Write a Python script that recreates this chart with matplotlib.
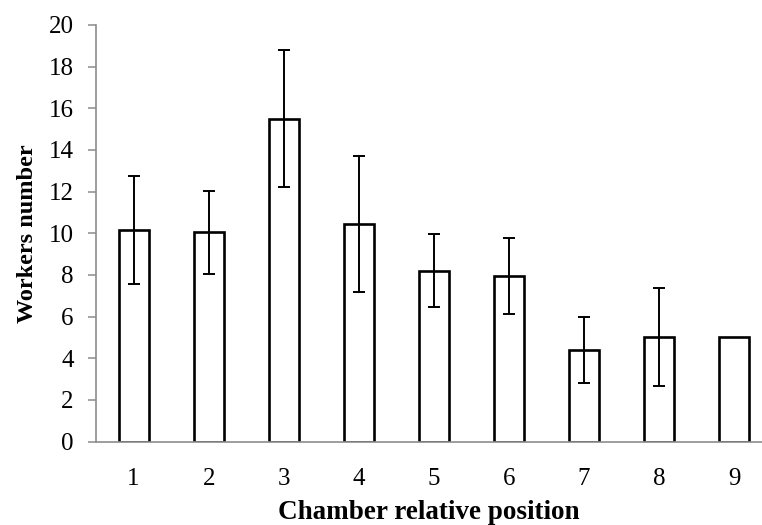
import numpy as np
import matplotlib
matplotlib.use('Agg')
import matplotlib.pyplot as plt

positions = [1, 2, 3, 4, 5, 6, 7, 8, 9]
workers = [10.15, 10.05, 15.5, 10.45, 8.2, 7.95, 4.4, 5.0, 5.0]
errors = [2.6, 2.0, 3.3, 3.25, 1.75, 1.8, 1.6, 2.35, 0.0]
yticks = [0, 2, 4, 6, 8, 10, 12, 14, 16, 18, 20]

plt.rcParams['font.family'] = ['Liberation Serif', 'DejaVu Serif']

fig = plt.figure(figsize=(7.62, 5.25), dpi=100)
ax = fig.add_axes([0.126, 0.1587, 0.874, 0.794])

x = np.array(positions)
ax.bar(x, workers, width=0.4, color='white', edgecolor='black', linewidth=1.9, zorder=2)
# only draw error bars where there is an error
mask = np.array(errors) > 0
ax.errorbar(x[mask], np.array(workers)[mask], yerr=np.array(errors)[mask],
            fmt='none', ecolor='black', elinewidth=1.4, capsize=4.5, capthick=1.4, zorder=3)

ax.set_xlim(0.5, 9.37)
ax.set_ylim(0, 20)
ax.set_yticks(yticks)
ax.set_xticks(positions)
ax.set_xticklabels([str(p) for p in positions])

for side in ['top', 'right']:
    ax.spines[side].set_visible(False)
for side in ['left', 'bottom']:
    ax.spines[side].set_color('#8c8c8c')
    ax.spines[side].set_linewidth(1.2)

ax.tick_params(axis='y', length=6, width=1.1, color='#8c8c8c', labelsize=18, pad=10)
ax.tick_params(axis='x', length=0, labelsize=18, pad=19)

ax.set_ylabel('Workers number', fontsize=17.5, fontweight='bold', labelpad=8)
ax.set_xlabel('Chamber relative position', fontsize=19.5, fontweight='bold', labelpad=7)

fig.savefig('out.png', dpi=100)
